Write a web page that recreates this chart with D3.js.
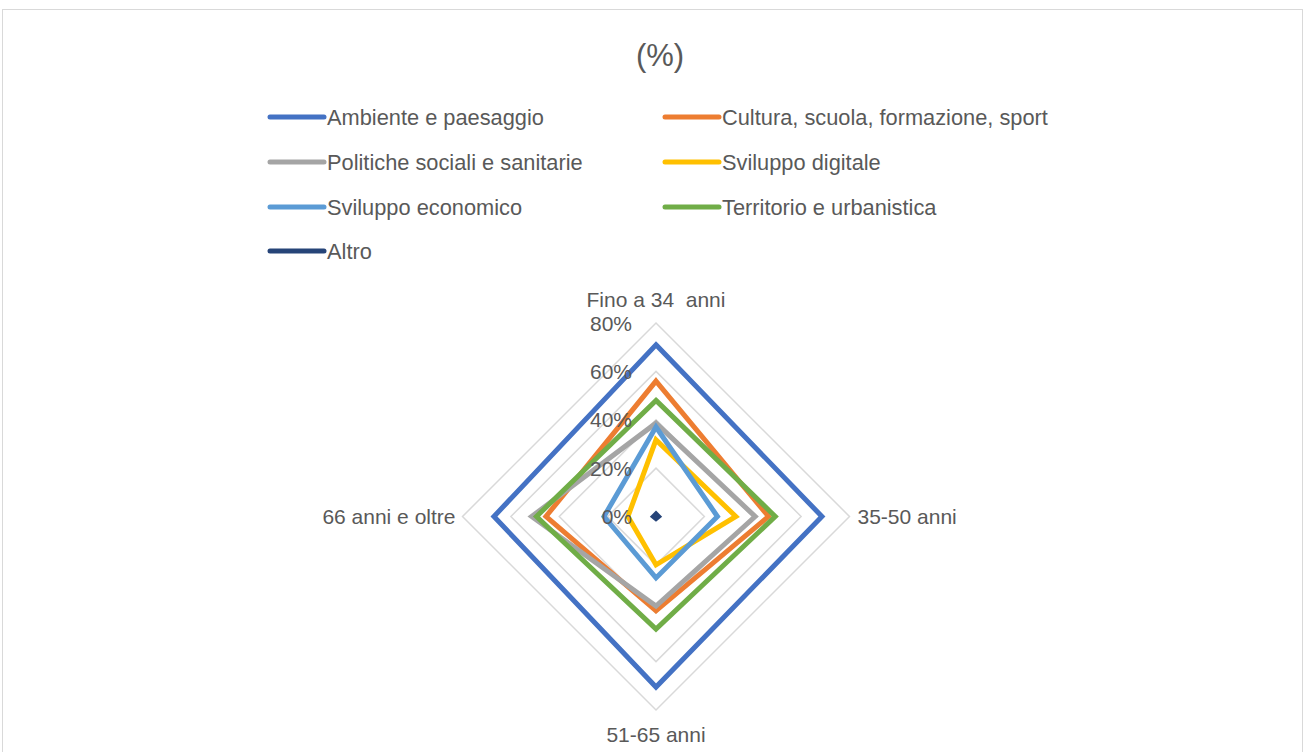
<!DOCTYPE html>
<html><head><meta charset="utf-8">
<script src="https://cdn.jsdelivr.net/npm/d3@7"></script>
<style>body{margin:0;background:#fff}svg{display:block}text{font-family:"Liberation Sans",Arial,sans-serif;fill:#595959;white-space:pre}</style>
</head><body><svg id="c" width="1306" height="752"></svg>
<script>
const categories = ["Fino a 34  anni", "35-50 anni", "51-65 anni", "66 anni e oltre"];
const seriesNames = ["Ambiente e paesaggio", "Cultura, scuola, formazione, sport", "Politiche sociali e sanitarie", "Sviluppo digitale", "Sviluppo economico", "Territorio e urbanistica", "Altro"];
const colors = ["#4472C4", "#ED7D31", "#A5A5A5", "#FFC000", "#5B9BD5", "#70AD47", "#264478"];
const ambiente = [0.71, 0.686, 0.705, 0.67];
const cultura = [0.56, 0.465, 0.39, 0.455];
const politiche = [0.386, 0.41, 0.37, 0.514];
const digitale = [0.317, 0.33, 0.20, 0.116];
const economico = [0.37, 0.254, 0.254, 0.215];
const territorio = [0.48, 0.493, 0.465, 0.494];
const altro = [0.01, 0.01, 0.008, 0.01];
const tickValues = [0, 0.2, 0.4, 0.6, 0.8];
const tickLabels = ["0%", "20%", "40%", "60%", "80%"];
const seriesValues = [ambiente, cultura, politiche, digitale, economico, territorio, altro];

const svg = d3.select("#c");
svg.append("rect").attr("x", 2.5).attr("y", 9.5).attr("width", 1300).attr("height", 760)
  .attr("fill", "#fff").attr("stroke", "#d9d9d9");

svg.append("text").attr("x", 660).attr("y", 55).attr("text-anchor", "middle")
  .attr("dominant-baseline", "central").style("font-size", "31px").text("(%)");

// legend
const legendCols = [268, 663], legendRows = [117, 162, 207, 251];
seriesNames.forEach((n, i) => {
  const x = legendCols[i % 2], y = legendRows[Math.floor(i / 2)];
  svg.append("line").attr("x1", x + 2).attr("x2", x + 56).attr("y1", y).attr("y2", y)
    .attr("stroke", colors[i]).attr("stroke-width", 5).attr("stroke-linecap", "round");
  svg.append("text").attr("x", x + 59).attr("y", y).attr("dominant-baseline", "central")
    .style("font-size", "21.8px").text(n);
});

const cx = 656, cy = 516.5;
const r = d3.scaleLinear().domain([0, 0.8]).range([0, 193.5]);
const angle = d3.scalePoint().domain(d3.range(categories.length)).range([0, 2 * Math.PI * (categories.length - 1) / categories.length]);
const g = svg.append("g").attr("transform", `translate(${cx},${cy})`);

const radial = d3.lineRadial().angle((d, i) => angle(i)).radius(d => r(d)).curve(d3.curveLinearClosed);

// grid rings
tickValues.slice(1).forEach(t => {
  g.append("path").attr("d", radial(categories.map(() => t)))
    .attr("fill", "none").attr("stroke", "#d9d9d9").attr("stroke-width", 1.5);
});

// series
seriesValues.forEach((vals, i) => {
  g.append("path").attr("d", radial(vals)).attr("fill", "none")
    .attr("stroke", colors[i]).attr("stroke-width", 5).attr("stroke-linejoin", "miter");
});

// tick labels
tickValues.forEach((t, i) => {
  g.append("text").attr("x", -24).attr("y", -r(t)).attr("text-anchor", "end")
    .attr("dominant-baseline", "central").style("font-size", "21px").text(tickLabels[i]);
});

// category labels
const labR = r(0.8);
categories.forEach((c, i) => {
  const a = angle(i);
  const x = Math.sin(a) * labR, y = -Math.cos(a) * labR;
  let anchor = "middle", dx = 0, dy = 0;
  if (i === 0) dy = -24;
  if (i === 2) dy = 24;
  if (i === 1) { anchor = "start"; dx = 8; }
  if (i === 3) { anchor = "end"; dx = -7; }
  g.append("text").attr("x", x + dx).attr("y", y + dy).attr("text-anchor", anchor)
    .attr("dominant-baseline", "central").style("font-size", "21px").text(c);
});
</script></body></html>
